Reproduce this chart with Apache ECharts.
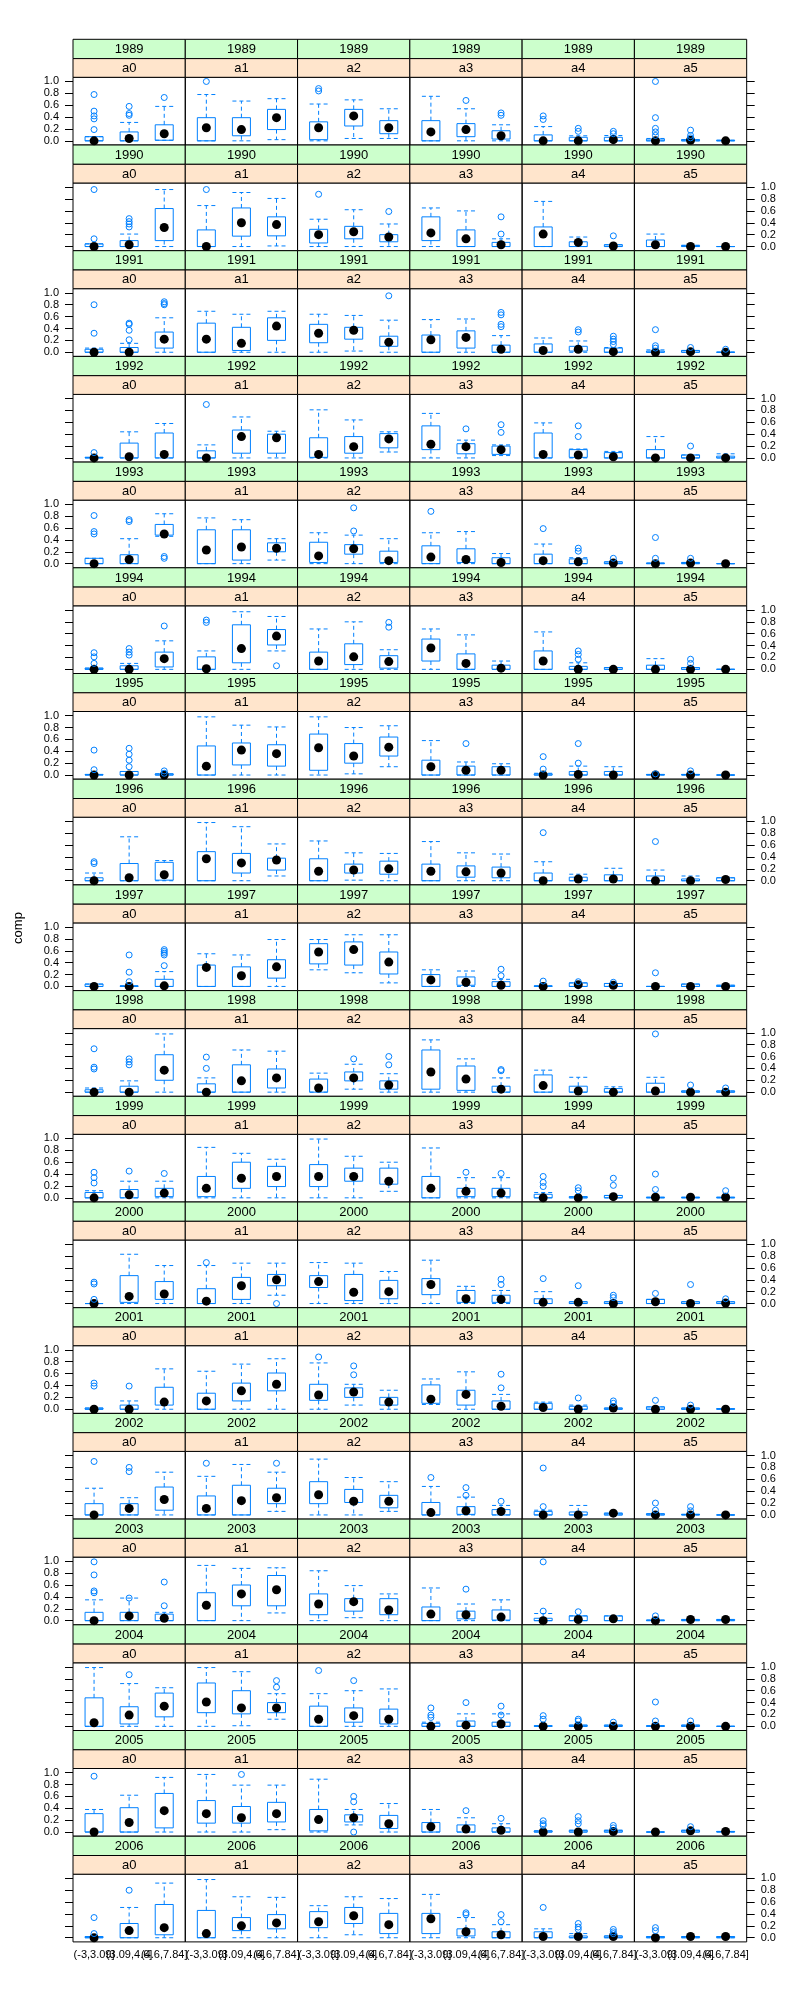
<!DOCTYPE html>
<html><head><meta charset="utf-8">
<script src="https://cdn.jsdelivr.net/npm/echarts@6/dist/echarts.min.js"></script>
<style>html,body{margin:0;padding:0;background:#fff}#chart{width:800px;height:2000px}</style>
</head><body><div id="chart"></div>
<script>
const years = ['1989','1990','1991','1992','1993','1994','1995','1996','1997','1998','1999','2000','2001','2002','2003','2004','2005','2006'];
const groups = ['a0','a1','a2','a3','a4','a5'];
const bins = ['(-3,3.09]','(3.09,4.6]','(4.6,7.84]'];
const yTicks = [0,0.2,0.4,0.6,0.8,1.0];
const yName = 'comp';
// each box: [lower whisker, q1, median, q3, upper whisker, [outliers]] ; order a0 bins1-3, a1 bins1-3, ...
const s1989 = [
 [0,0,0,0.07,0.07,[0.78,0.5,0.42,0.37,0.19]],[0,0,0.04,0.15,0.31,[0.58,0.46,0.43]],[0.01,0.01,0.12,0.27,0.58,[0.73]],
 [0,0,0.22,0.39,0.78,[1.0]],[0,0.085,0.19,0.39,0.67,[]],[0.02,0.19,0.39,0.53,0.71,[]],
 [0,0.02,0.22,0.32,0.62,[0.88,0.84]],[0.04,0.25,0.42,0.53,0.69,[]],[0.04,0.12,0.22,0.34,0.54,[]],
 [0,0,0.15,0.34,0.75,[]],[0,0.07,0.19,0.29,0.54,[0.68]],[0,0.03,0.085,0.17,0.27,[0.47,0.43]],
 [0,0,0,0.1,0.24,[0.42,0.36]],[0,0,0,0.06,0.085,[0.21,0.16]],[0,0,0.02,0.06,0.09,[0.16,0.12]],
 [0,0,0,0.03,0.04,[1.0,0.39,0.21,0.15,0.09]],[0,0,0.01,0.02,0.02,[0.18,0.09,0.05]],[0,0,0,0.01,0.01,[]]
];
const s1990 = [
 [0,0,0,0.045,0.045,[0.96,0.13]],[0,0,0.03,0.1,0.21,[0.47,0.42,0.38,0.33]],[0,0.1,0.32,0.64,0.96,[]],
 [0,0,0,0.28,0.69,[0.96]],[0,0.175,0.4,0.65,0.91,[]],[0.01,0.18,0.37,0.5,0.81,[]],
 [0,0.06,0.2,0.29,0.46,[0.88]],[0,0.13,0.25,0.34,0.62,[]],[0,0.08,0.16,0.2,0.38,[0.59]],
 [0,0.1,0.23,0.5,0.65,[]],[0,0,0.13,0.28,0.6,[]],[0,0,0.03,0.07,0.13,[0.5,0.21]],
 [0,0,0.21,0.33,0.76,[]],[0,0,0.07,0.08,0.16,[]],[0,0,0.01,0.03,0.03,[0.18]],
 [0,0,0.03,0.11,0.21,[]],[0,0,0,0.02,0.02,[]],[0,0,0,0,0,[]]
];
const s1991 = [
 [0,0,0,0.05,0.07,[0.8,0.32]],[0,0,0,0.08,0.15,[0.49,0.47,0.37,0.21]],[0,0.07,0.22,0.34,0.58,[0.85,0.82,0.8]],
 [0,0,0.22,0.49,0.69,[]],[0,0.03,0.15,0.42,0.64,[]],[0,0.2,0.44,0.58,0.69,[]],
 [0,0.16,0.32,0.47,0.64,[]],[0.02,0.22,0.37,0.42,0.62,[]],[0,0.1,0.17,0.27,0.54,[0.95]],
 [0,0,0.21,0.29,0.55,[]],[0,0.07,0.25,0.36,0.56,[]],[0,0,0.05,0.12,0.28,[0.67,0.63,0.47,0.43]],
 [0,0,0.03,0.14,0.24,[]],[0,0.02,0.05,0.1,0.19,[0.38,0.34]],[0,0,0.01,0.07,0.08,[0.27,0.22,0.18,0.13]],
 [0,0,0,0.02,0.04,[0.38,0.11,0.07]],[0,0,0.01,0.03,0.03,[0.08]],[0,0,0,0,0,[0.05]]
];
const s1992 = [
 [0,0,0,0.01,0.01,[0.09]],[0,0,0.02,0.25,0.44,[]],[0,0,0.06,0.42,0.58,[]],
 [0,0,0,0.12,0.22,[0.9]],[0,0.08,0.36,0.47,0.69,[]],[0,0.08,0.34,0.4,0.45,[]],
 [0,0.01,0.06,0.34,0.81,[]],[0,0.08,0.19,0.36,0.64,[]],[0.1,0.17,0.32,0.41,0.44,[]],
 [0,0.14,0.23,0.54,0.75,[]],[0,0.07,0.19,0.24,0.3,[0.49]],[0.04,0.06,0.14,0.2,0.22,[0.56,0.43]],
 [0,0,0.06,0.42,0.59,[]],[0,0.01,0.05,0.14,0.15,[0.54,0.36]],[0,0,0.02,0.09,0.11,[]],
 [0,0,0,0.14,0.36,[]],[0,0,0,0.05,0.05,[0.2]],[0,0,0,0.03,0.07,[]]
];
const s1993 = [
 [0,0,0,0.09,0.09,[0.81,0.54,0.5]],[0,0,0.07,0.15,0.42,[0.74,0.71]],[0.46,0.48,0.5,0.66,0.84,[0.12,0.09]],
 [0,0,0.23,0.57,0.77,[]],[0,0.06,0.28,0.57,0.74,[]],[0.06,0.2,0.26,0.35,0.42,[]],
 [0,0.02,0.13,0.36,0.52,[]],[0,0.16,0.25,0.32,0.48,[0.94,0.55]],[0,0.02,0.05,0.21,0.42,[]],
 [0,0,0.11,0.3,0.52,[0.88]],[0,0.02,0.07,0.25,0.54,[]],[0,0,0.02,0.1,0.17,[]],
 [0,0,0.05,0.16,0.33,[0.59]],[0,0,0.03,0.08,0.1,[0.26,0.21]],[0,0,0.01,0.03,0.03,[0.09]],
 [0,0,0,0.01,0.01,[0.44,0.09]],[0,0,0.01,0.02,0.02,[0.09]],[0,0,0,0,0,[]]
];
const s1994 = [
 [0,0,0,0.02,0.02,[0.28,0.21,0.1]],[0,0,0,0.06,0.1,[0.35,0.29,0.24]],[0,0.04,0.18,0.29,0.48,[0.73]],
 [0,0,0.01,0.21,0.31,[0.83,0.79]],[0,0.11,0.35,0.75,0.97,[]],[0.31,0.41,0.56,0.67,0.89,[0.06]],
 [0,0,0.14,0.29,0.68,[]],[0,0.08,0.21,0.43,0.8,[]],[0,0.02,0.13,0.23,0.33,[0.79,0.71]],
 [0,0.14,0.36,0.51,0.68,[]],[0,0,0.1,0.26,0.58,[]],[0,0,0.02,0.07,0.14,[]],
 [0,0,0.14,0.31,0.63,[]],[0,0,0,0.05,0.11,[0.31,0.25,0.17]],[0,0,0,0.03,0.03,[]],
 [0,0,0,0.07,0.18,[]],[0,0,0,0.03,0.03,[0.17,0.1]],[0,0,0,0,0,[]]
];
const s1995 = [
 [0,0,0,0.01,0.01,[0.42,0.09]],[0,0,0,0.06,0.06,[0.45,0.35,0.25,0.14]],[0,0,0,0.02,0.02,[0.07,0.03]],
 [0,0,0.15,0.49,0.98,[]],[0,0.17,0.42,0.54,0.84,[]],[0,0.15,0.36,0.51,0.81,[]],
 [0,0.08,0.46,0.69,0.98,[]],[0.02,0.2,0.32,0.53,0.8,[]],[0.14,0.32,0.47,0.64,0.83,[]],
 [0,0,0.14,0.25,0.58,[]],[0,0,0.08,0.15,0.22,[0.53]],[0,0,0.08,0.14,0.19,[]],
 [0,0,0,0.02,0.03,[0.31,0.1]],[0,0,0.01,0.06,0.15,[0.53,0.2]],[0,0,0,0.06,0.14,[]],
 [0,0,0,0.01,0.01,[0.02]],[0,0,0,0.01,0.01,[0.07]],[0,0,0,0,0,[]]
];
const s1996 = [
 [0,0,0,0.05,0.13,[0.32,0.29]],[0,0,0.05,0.29,0.74,[]],[0,0.01,0.1,0.31,0.34,[]],
 [0,0,0.37,0.49,0.98,[]],[0,0.13,0.3,0.46,0.91,[]],[0.08,0.18,0.35,0.38,0.62,[]],
 [0,0,0.16,0.37,0.67,[]],[0.01,0.13,0.18,0.28,0.47,[]],[0,0.11,0.2,0.33,0.46,[]],
 [0,0,0.16,0.28,0.66,[]],[0,0.06,0.15,0.25,0.47,[]],[0,0.05,0.13,0.23,0.45,[]],
 [0,0,0,0.13,0.32,[0.81]],[0,0,0.03,0.06,0.11,[]],[0,0,0.03,0.1,0.21,[]],
 [0,0,0,0.08,0.18,[0.66]],[0,0,0,0.03,0.08,[]],[0,0,0.02,0.05,0.05,[]]
];
const s1997 = [
 [0,0,0,0.04,0.04,[]],[0,0,0,0.01,0.01,[0.53,0.24,0.08]],[0,0,0.01,0.12,0.25,[0.62,0.59,0.56,0.53,0.35]],
 [0,0,0.32,0.36,0.55,[]],[0,0,0.18,0.33,0.53,[]],[0,0.14,0.33,0.45,0.79,[]],
 [0.28,0.38,0.58,0.72,0.79,[]],[0.23,0.36,0.62,0.75,0.87,[]],[0.06,0.21,0.41,0.58,0.87,[]],
 [0,0,0.11,0.2,0.28,[]],[0,0.02,0.07,0.16,0.26,[]],[0,0,0.02,0.08,0.12,[0.29,0.18]],
 [0,0,0,0.01,0.01,[0.09]],[0,0,0.03,0.06,0.06,[0.08]],[0,0,0.02,0.05,0.05,[0.07]],
 [0,0,0,0,0,[0.23]],[0,0,0,0.04,0.04,[]],[0,0,0,0.02,0.02,[]]
];
const s1998 = [
 [0,0,0,0.04,0.07,[0.73,0.42,0.39]],[0,0,0,0.1,0.19,[0.56,0.51,0.46]],[0,0.2,0.37,0.63,0.98,[]],
 [0,0,0,0.14,0.24,[0.59,0.4]],[0,0,0.19,0.46,0.71,[]],[0,0.07,0.24,0.39,0.69,[]],
 [0,0,0.07,0.22,0.32,[]],[0.05,0.19,0.24,0.34,0.47,[0.56]],[0,0.05,0.12,0.19,0.31,[0.6,0.46]],
 [0,0.05,0.34,0.71,0.88,[]],[0,0.03,0.22,0.44,0.56,[]],[0,0,0.05,0.1,0.24,[0.38,0.36]],
 [0,0,0.11,0.29,0.37,[]],[0,0,0.02,0.1,0.25,[]],[0,0,0,0.06,0.09,[]],
 [0,0,0.02,0.15,0.25,[0.98]],[0,0,0,0.02,0.02,[0.12]],[0,0,0,0.02,0.02,[0.07]]
];
const s1999 = [
 [0,0,0,0.09,0.12,[0.43,0.34,0.25]],[0,0,0.05,0.14,0.28,[0.45]],[0,0.02,0.08,0.16,0.28,[0.41]],
 [0,0.02,0.16,0.36,0.85,[]],[0,0.16,0.33,0.6,0.75,[]],[0,0.19,0.36,0.53,0.65,[]],
 [0,0.19,0.36,0.56,0.99,[]],[0,0.28,0.36,0.5,0.7,[]],[0.11,0.23,0.28,0.5,0.6,[]],
 [0,0,0.16,0.36,0.84,[]],[0,0.02,0.11,0.16,0.34,[0.43]],[0,0.02,0.08,0.16,0.34,[0.41]],
 [0,0,0,0.06,0.09,[0.36,0.26,0.19]],[0,0,0,0.02,0.02,[0.17,0.12]],[0,0,0.02,0.04,0.04,[0.33,0.21]],
 [0,0,0.01,0.01,0.01,[0.4,0.14]],[0,0,0.01,0.01,0.01,[]],[0,0,0.01,0.01,0.01,[0.12]]
];
const s2000 = [
 [0,0,0,0,0,[0.36,0.33,0.07]],[0,0.02,0.12,0.47,0.83,[]],[0,0.07,0.16,0.37,0.64,[]],
 [0,0,0.04,0.25,0.64,[0.69]],[0,0.07,0.3,0.44,0.68,[]],[0.14,0.3,0.4,0.49,0.68,[0]],
 [0,0.27,0.37,0.47,0.69,[]],[0,0.05,0.19,0.49,0.68,[]],[0,0.08,0.2,0.39,0.54,[]],
 [0,0.15,0.32,0.42,0.73,[]],[0,0.02,0.08,0.22,0.29,[]],[0,0.02,0.07,0.14,0.22,[0.41,0.32]],
 [0,0,0.02,0.08,0.2,[0.42]],[0,0,0.02,0.03,0.03,[0.3]],[0,0,0,0.03,0.03,[0.14,0.1]],
 [0,0,0.03,0.07,0.07,[0.17]],[0,0,0,0.03,0.03,[0.32]],[0,0,0.01,0.03,0.03,[0.08]]
];
const s2001 = [
 [0,0,0,0.02,0.02,[0.44,0.39]],[0,0,0,0.07,0.14,[0.39]],[0,0.07,0.12,0.37,0.68,[]],
 [0,0,0.14,0.27,0.64,[]],[0,0.14,0.31,0.44,0.76,[]],[0,0.31,0.42,0.61,0.85,[]],
 [0,0.15,0.24,0.42,0.78,[0.88]],[0.07,0.2,0.29,0.36,0.42,[0.73,0.58]],[0,0.07,0.12,0.2,0.32,[]],
 [0.08,0.1,0.17,0.41,0.51,[]],[0,0.07,0.25,0.32,0.63,[]],[0,0,0.05,0.14,0.25,[0.59,0.36]],
 [0,0,0.03,0.1,0.12,[]],[0,0,0,0.05,0.07,[0.19]],[0,0,0.02,0.02,0.02,[0.14,0.1]],
 [0,0,0,0.04,0.04,[0.15]],[0,0,0,0.02,0.02,[0.07]],[0,0,0,0.01,0.01,[]]
];
const s2002 = [
 [0,0,0,0.19,0.45,[0.9]],[0,0,0.11,0.19,0.29,[0.8,0.73]],[0,0.08,0.26,0.47,0.72,[]],
 [0,0,0.11,0.32,0.65,[0.87]],[0,0,0.24,0.5,0.85,[]],[0.06,0.19,0.29,0.45,0.72,[0.87]],
 [0,0.19,0.34,0.56,0.94,[]],[0,0.21,0.23,0.43,0.63,[]],[0.06,0.12,0.23,0.33,0.56,[]],
 [0,0,0.04,0.21,0.48,[0.63]],[0,0.01,0.07,0.14,0.3,[0.46,0.33]],[0,0,0.06,0.09,0.16,[0.23]],
 [0,0,0,0.06,0.08,[0.79,0.14]],[0,0,0,0.05,0.16,[]],[0,0,0.03,0.03,0.03,[]],
 [0,0,0,0.02,0.02,[0.2,0.08]],[0,0,0,0.01,0.01,[0.14,0.07]],[0,0,0,0,0,[]]
];
const s2003 = [
 [0,0,0,0.14,0.35,[0.99,0.77,0.5,0.47]],[0,0,0.08,0.14,0.38,[0.38]],[0,0,0.04,0.11,0.14,[0.65,0.25]],
 [0,0,0.26,0.47,0.93,[]],[0,0.25,0.45,0.6,0.88,[]],[0.13,0.25,0.52,0.76,0.89,[]],
 [0,0.1,0.28,0.45,0.84,[]],[0.05,0.16,0.32,0.37,0.59,[]],[0,0.1,0.18,0.37,0.45,[]],
 [0,0,0.11,0.23,0.55,[]],[0,0.03,0.1,0.16,0.28,[0.53]],[0,0.01,0.06,0.18,0.35,[]],
 [0,0,0,0.04,0.12,[0.99,0.16]],[0,0,0.02,0.08,0.08,[0.15]],[0,0,0.03,0.08,0.08,[]],
 [0,0,0,0.01,0.01,[0.08]],[0,0,0.02,0.02,0.02,[]],[0,0,0.02,0.02,0.02,[]]
];
const s2004 = [
 [0,0,0.06,0.48,0.99,[]],[0,0.04,0.19,0.33,0.72,[0.87]],[0,0.16,0.34,0.56,0.65,[]],
 [0,0.23,0.41,0.73,0.99,[]],[0.01,0.21,0.31,0.6,0.92,[]],[0.12,0.23,0.31,0.4,0.55,[0.77,0.66]],
 [0,0,0.12,0.34,0.55,[0.94]],[0,0.07,0.18,0.31,0.6,[0.77]],[0,0.04,0.12,0.29,0.63,[]],
 [0,0,0,0.05,0.07,[0.31,0.19,0.15]],[0,0,0.02,0.09,0.21,[0.4]],[0,0,0.04,0.07,0.21,[0.34,0.19]],
 [0,0,0,0.01,0.01,[0.18,0.12]],[0,0,0,0.02,0.02,[0.12,0.09]],[0,0,0,0.02,0.02,[0.07]],
 [0,0,0,0.01,0.01,[0.41,0.09]],[0,0,0,0.02,0.02,[0.09]],[0,0,0,0,0,[]]
];
const s2005 = [
 [0,0,0,0.31,0.38,[0.94]],[0,0,0.16,0.41,0.62,[]],[0,0.07,0.36,0.65,0.92,[]],
 [0,0.15,0.31,0.53,0.97,[]],[0,0.15,0.24,0.43,0.79,[0.97]],[0.04,0.17,0.31,0.5,0.79,[]],
 [0,0.02,0.21,0.38,0.89,[]],[0.12,0.17,0.24,0.29,0.38,[0.6,0.51,0]],[0,0.06,0.14,0.28,0.48,[]],
 [0,0,0.09,0.16,0.38,[]],[0,0,0.05,0.12,0.24,[0.36]],[0,0,0.03,0.07,0.14,[0.23]],
 [0,0,0,0.02,0.02,[0.19,0.14,0.11]],[0,0,0,0.03,0.03,[0.26,0.19,0.14]],[0,0,0.01,0.03,0.03,[0.11,0.07]],
 [0,0,0,0,0,[]],[0,0,0.02,0.03,0.03,[0.09]],[0,0,0.01,0.01,0.01,[]]
];
const s2006 = [
 [0,0,0,0.02,0.02,[0.34,0.07]],[0,0,0.12,0.24,0.51,[0.8]],[0,0.05,0.17,0.56,0.92,[]],
 [0,0,0.07,0.46,0.98,[]],[0,0.12,0.2,0.34,0.69,[]],[0,0.15,0.25,0.39,0.68,[]],
 [0,0.17,0.27,0.44,0.54,[]],[0.05,0.24,0.37,0.51,0.69,[]],[0,0.07,0.22,0.41,0.66,[]],
 [0,0.07,0.32,0.41,0.73,[]],[0,0.03,0.1,0.15,0.34,[0.42,0.39]],[0,0,0.05,0.1,0.22,[0.39,0.27]],
 [0,0,0.02,0.1,0.15,[0.51]],[0,0,0.02,0.03,0.07,[0.24,0.18,0.14]],[0,0,0.02,0.03,0.03,[0.14,0.1,0.07]],
 [0,0,0,0.02,0.02,[0.17,0.12]],[0,0,0.02,0.02,0.02,[]],[0,0,0.02,0.02,0.02,[]]
];
const statsByYear = [s1989,s1990,s1991,s1992,s1993,s1994,s1995,s1996,s1997,s1998,s1999,s2000,s2001,s2002,s2003,s2004,s2005,s2006];

// ---- layout / style ----
const BLUE = '#0080ff', GREEN = '#ccffcc', ORANGE = '#ffe5cc';
const FONT = 'Liberation Sans';
const LEFT0 = 73, PW = 112.28, TOP0 = 39.3, ROWH = 105.7, S1 = 19.3, S2 = 18.7, PH = 67.7;
const BOXHALF = 9;
const Y_MIN = -0.07, Y_MAX = 1.07;

const chart = echarts.init(document.getElementById('chart'), null, {renderer: 'canvas'});
const grids = [], xAxes = [], yAxes = [], series = [], graphics = [];
const nR = years.length, nC = groups.length;

function renderBox(params, api) {
  const x = api.value(0);
  const pl = api.coord([x, api.value(1)]);
  const p1 = api.coord([x, api.value(2)]);
  const pm = api.coord([x, api.value(3)]);
  const p3 = api.coord([x, api.value(4)]);
  const pu = api.coord([x, api.value(5)]);
  const cx = pl[0];
  const dash = {stroke: BLUE, lineWidth: 1, lineDash: [4, 3], fill: null};
  return {type: 'group', children: [
    {type: 'line', shape: {x1: cx, y1: p3[1], x2: cx, y2: pu[1]}, style: dash},
    {type: 'line', shape: {x1: cx, y1: p1[1], x2: cx, y2: pl[1]}, style: dash},
    {type: 'line', shape: {x1: cx - BOXHALF, y1: pu[1], x2: cx + BOXHALF, y2: pu[1]}, style: dash},
    {type: 'line', shape: {x1: cx - BOXHALF, y1: pl[1], x2: cx + BOXHALF, y2: pl[1]}, style: dash},
    {type: 'rect', shape: {x: cx - BOXHALF, y: p3[1], width: 2 * BOXHALF, height: p1[1] - p3[1]},
      style: {fill: null, stroke: BLUE, lineWidth: 1}},
    {type: 'circle', shape: {cx: cx, cy: pm[1], r: 4.5}, style: {fill: '#000'}}
  ]};
}

for (let r = 0; r < nR; r++) {
  const rowTop = TOP0 + ROWH * r;
  for (let c = 0; c < nC; c++) {
    const g = r * nC + c;
    const left = LEFT0 + PW * c;
    // strips
    graphics.push({type: 'rect', shape: {x: left, y: rowTop, width: PW, height: S1},
      style: {fill: GREEN, stroke: '#000', lineWidth: 1}, silent: true});
    graphics.push({type: 'rect', shape: {x: left, y: rowTop + S1, width: PW, height: S2},
      style: {fill: ORANGE, stroke: '#000', lineWidth: 1}, silent: true});
    graphics.push({type: 'text', x: left + PW / 2, y: rowTop + S1 / 2 + 0.5,
      style: {text: years[r], fontFamily: FONT, fontSize: 13, fill: '#000', align: 'center', verticalAlign: 'middle'}, silent: true});
    graphics.push({type: 'text', x: left + PW / 2, y: rowTop + S1 + S2 / 2 + 0.5,
      style: {text: groups[c], fontFamily: FONT, fontSize: 13, fill: '#000', align: 'center', verticalAlign: 'middle'}, silent: true});

    grids.push({left: left, top: rowTop + S1 + S2, width: PW, height: PH, show: true,
      borderColor: '#000', borderWidth: 1, backgroundColor: 'transparent'});
    xAxes.push({gridIndex: g, type: 'value', min: 0.4, max: 3.6,
      axisLine: {show: false}, axisTick: {show: false}, splitLine: {show: false},
      axisLabel: {show: false}});
    const outer = (c === 0 || c === nC - 1);
    const showLab = (c === 0 && r % 2 === 0) || (c === nC - 1 && r % 2 === 1);
    yAxes.push({gridIndex: g, type: 'value', min: Y_MIN, max: Y_MAX, position: c === nC - 1 ? 'right' : 'left',
      axisLine: {show: false}, splitLine: {show: false},
      axisTick: {show: outer, length: 8, customValues: yTicks, lineStyle: {color: '#000', width: 1}},
      axisLabel: {show: showLab, customValues: yTicks, formatter: v => v.toFixed(1),
        fontFamily: FONT, fontSize: 11, color: '#000', margin: 14}});

    const boxes = statsByYear[r].slice(c * 3, c * 3 + 3);
    series.push({type: 'custom', xAxisIndex: g, yAxisIndex: g, renderItem: renderBox, silent: true,
      encode: {x: 0, y: [1, 2, 3, 4, 5]},
      data: boxes.map((b, k) => [k + 1, b[0], b[1], b[2], b[3], b[4]]), z: 2});
    const outs = [];
    boxes.forEach((b, k) => b[5].forEach(v => outs.push([k + 1, v])));
    series.push({type: 'scatter', xAxisIndex: g, yAxisIndex: g, silent: true, symbol: 'circle', symbolSize: 6,
      itemStyle: {color: 'rgba(0,0,0,0)', borderColor: BLUE, borderWidth: 1, opacity: 1},
      data: outs, z: 3});
  }
}
graphics.push({type: 'text', x: 18, y: 928, rotation: Math.PI / 2,
  style: {text: yName, fontFamily: FONT, fontSize: 13, fill: '#000', align: 'center', verticalAlign: 'middle'}, silent: true});

chart.setOption({
  animation: false,
  backgroundColor: '#fff',
  grid: grids, xAxis: xAxes, yAxis: yAxes, series: series,
  graphic: {elements: graphics}
});

// bottom-row category labels, positioned through each panel's own x axis (overlapping as in the original)
for (let c = 0; c < nC; c++) {
  const g = (nR - 1) * nC + c;
  bins.forEach((label, k) => {
    const p = chart.convertToPixel({xAxisIndex: g, yAxisIndex: g}, [k + 1, Y_MIN]);
    graphics.push({type: 'text', x: p[0], y: p[1] + 8,
      style: {text: label, fontFamily: FONT, fontSize: 11, fill: '#000', align: 'center', verticalAlign: 'top'}, silent: true});
  });
}
chart.setOption({graphic: {elements: graphics}});
</script></body></html>
